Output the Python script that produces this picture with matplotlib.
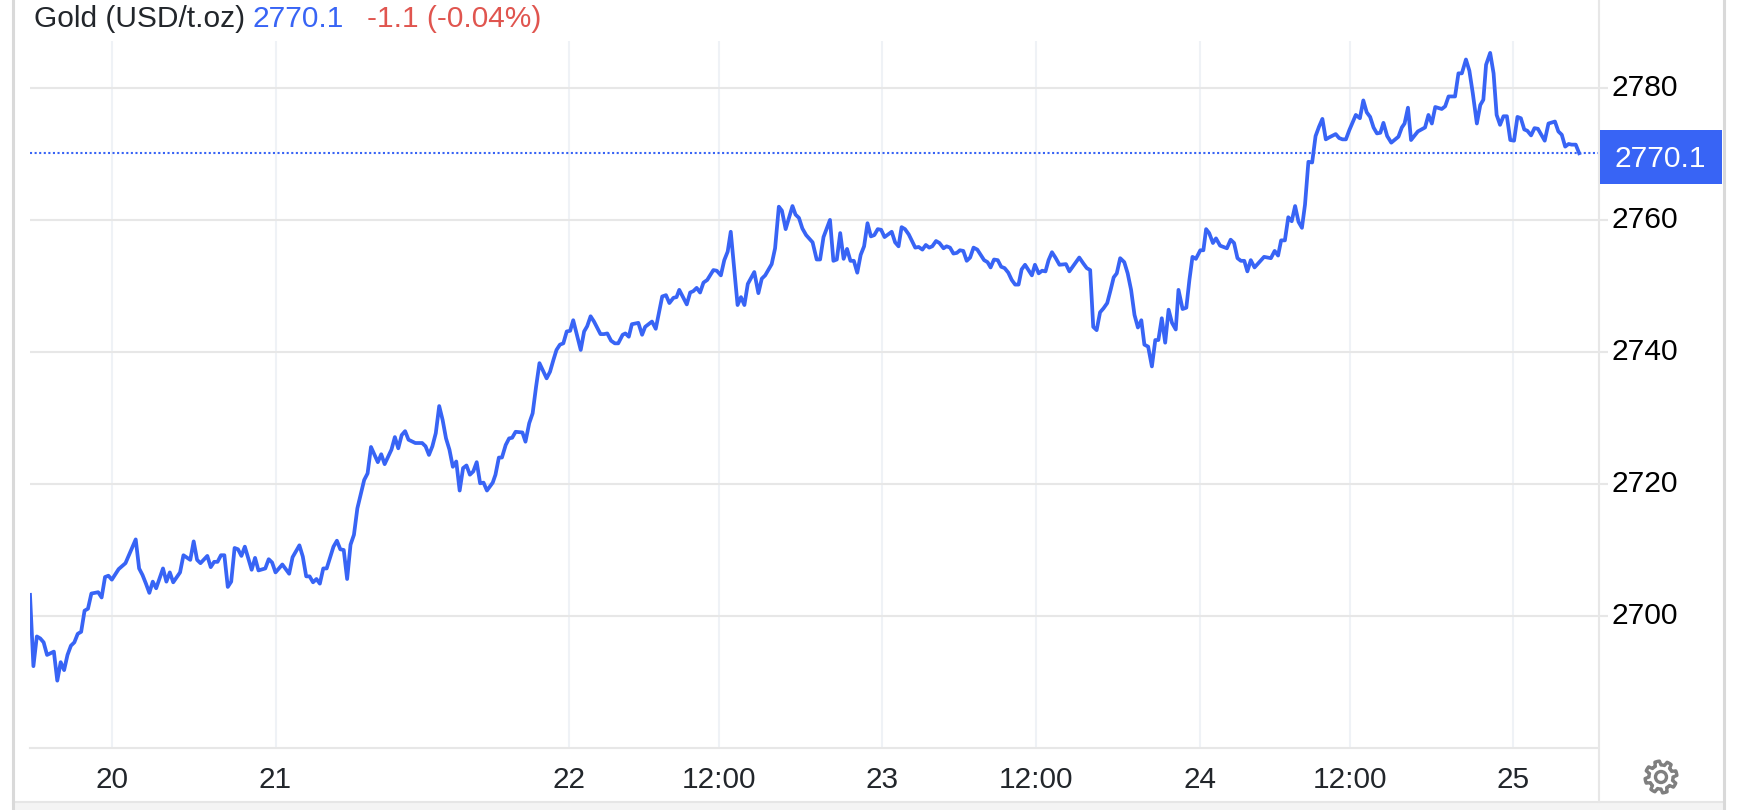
import numpy as np
import matplotlib
matplotlib.use('Agg')
import matplotlib.pyplot as plt
from matplotlib.patches import Rectangle, Circle, Polygon
from matplotlib.transforms import ScaledTranslation

plt.rcParams['font.family'] = ['Liberation Sans', 'DejaVu Sans']

# (bar number, price), one list per stretch of the chart
part_a = [(0,2703.2),(1,2692.4),(2,2696.9),(3,2696.6),(4,2696.0),(5,2694.1),(7,2694.6),(8,2690.2),
          (9,2693.0),(10,2691.8),(11,2694.1),(12,2695.5),(13,2696.0),(14,2697.3),(15,2697.6),(16,2700.8),
          (17,2701.1),(18,2703.4),(20,2703.6),(21,2702.8),(22,2705.9),(23,2706.1),(24,2705.5),(26,2707.1),
          (28,2708.0),(31,2711.6),(32,2707.2),(33,2706.2),(34,2704.9),(35,2703.5),(36,2705.2),(37,2704.2),
          (39,2707.2),(40,2705.2),(41,2706.6),(42,2705.1),(44,2706.6),(45,2709.2),(47,2708.5),(48,2711.3),
          (49,2708.5),(50,2708.0),(52,2709.1),(53,2707.4),(54,2708.2),(55,2708.2),(56,2709.2),(57,2709.2),
          (58,2704.4),(59,2705.2),(60,2710.3),(61,2710.1),(62,2709.1),(63,2710.5),(65,2707.0),(66,2708.8),
          (67,2706.9),(69,2707.2),(70,2708.6),(71,2708.1),(72,2706.6),(74,2707.8),(76,2706.4),(77,2708.9),
          (79,2710.7),(80,2709.0),(81,2706.0),(82,2706.0),(83,2705.1),(84,2705.6),(85,2704.9),(86,2707.2),
          (87,2707.2),(89,2710.5),(90,2711.4),(91,2710.1),(92,2710.0),(93,2705.6),(94,2710.8),(95,2712.3),
          (96,2716.3)]
part_b = [(98,2720.6),(99,2721.6),(100,2725.6),(102,2723.3),(103,2724.5),(104,2723.0),(106,2725.2),(107,2727.1),
          (108,2725.4),(109,2727.4),(110,2728.0),(111,2726.7),(113,2726.2),(115,2726.2),(116,2725.7),(117,2724.4),
          (118,2725.7),(119,2727.7),(120,2731.8),(121,2729.7),(122,2726.9),(123,2725.2),(124,2722.6),(125,2723.4),
          (126,2719.0),(127,2722.4),(128,2722.8),(129,2721.4),(130,2721.9),(131,2723.3),(132,2720.1),(133,2720.2),
          (134,2719.0),(135.7,2720.2),(136.5,2721.4),(137.5,2724.0),(138.4,2724.0),(139.5,2725.9),(140.5,2726.9),
          (141.4,2727.0),(142.4,2727.9),(144.4,2727.8),(145.3,2726.4),(146.4,2729.2),(147.4,2730.7),(148.4,2734.7),
          (149.4,2738.3),(151.5,2736.0),(152.5,2737.0),(153.5,2738.8),(154.4,2740.3),(155.4,2741.1),(156.4,2741.3),
          (157.4,2743.1),(158.4,2743.2),(159.3,2744.8),(161.5,2740.3),(162.5,2743.1),(163.4,2743.9),(164.4,2745.4),
          (165.4,2744.6),(167.3,2742.7),(168.3,2742.7),(169.3,2742.8),(170.4,2741.7),(171.5,2741.3),(172.5,2741.3),
          (173.8,2742.6),(174.6,2742.8),(175.6,2742.3),(176.5,2744.2),(178.4,2744.4),(179.5,2742.6),(180.4,2743.8),
          (182.4,2744.6),(183.5,2743.5)]
part_c = [(185.4,2748.4),(186.5,2748.6),(187.5,2747.4),(188.7,2748.2),(189.6,2748.3),(190.4,2749.4),(192.6,2747.2),
          (193.6,2749.0),(194.5,2749.2),(195.5,2749.7),(196.5,2749.0),(197.5,2750.5),(198.6,2750.9),(200.4,2752.4),
          (201.4,2752.3),(202.6,2751.6),(203.6,2753.9),(204.6,2755.2),(205.5,2758.2),(207.5,2747.1),(208.5,2748.3),
          (209.5,2747.1),(210.5,2750.3),(212.4,2752.1),(213.6,2748.9),(214.6,2751.1),(215.6,2751.6),(217.5,2753.3),
          (218.5,2755.7),(219.6,2762.0),(220.5,2761.4),(221.6,2758.6),(223.6,2762.1),(224.5,2760.8),(225.5,2760.3),
          (226.5,2758.7),(227.6,2757.7),(229.5,2756.6),(230.7,2754.0),(231.7,2754.0),(232.7,2757.4),(234.6,2760.0),
          (235.6,2753.8),(236.6,2754.0),(237.6,2758.0),(238.6,2754.1),(239.6,2755.6),(240.6,2753.8),(241.6,2753.8),
          (242.6,2752.0),(243.6,2754.7),(244.6,2756.0),(245.6,2759.5),(246.6,2757.5),(247.6,2757.7),(248.6,2758.6),
          (249.6,2758.5),(250.6,2757.4),(252.7,2758.2),(253.7,2756.6),(254.7,2756.0),(255.6,2758.9),(256.6,2758.6),
          (257.7,2757.8),(259.6,2755.8),(260.6,2755.9),(261.7,2755.5),(262.7,2756.2),(263.7,2755.8),(264.6,2756.0),
          (265.7,2756.8),(266.7,2756.5),(267.9,2755.7),(268.8,2756.0),(269.8,2755.8),(270.8,2754.9),(271.8,2755.0),
          (272.7,2755.4),(273.7,2755.3),(274.7,2753.8),(275.7,2754.3),(276.7,2755.8),(277.8,2755.5),(279.8,2753.9),
          (280.8,2753.6),(281.7,2752.8),(282.7,2754.0),(283.8,2753.9),(284.8,2752.9),(285.8,2752.7),(286.9,2752.0),
          (287.9,2750.9),(288.9,2750.2),(289.9,2750.2),(290.8,2752.5),(291.8,2753.2),(293.8,2751.6),(294.7,2753.2),
          (295.8,2751.9),(296.8,2752.3),(297.8,2752.2),(298.7,2753.9),(299.7,2755.1),(300.7,2754.3),(301.9,2753.2),
          (303.8,2753.3),(304.8,2752.2),(307.7,2754.3),(308.9,2753.4),(309.9,2752.7),(310.9,2752.4),(311.8,2743.8),
          (312.8,2743.3),(313.8,2746.0),(314.8,2746.6),(315.9,2747.4),(316.9,2749.4),(317.8,2751.3),(318.7,2751.9)]
part_d = [(319.7,2754.2),(320.9,2753.6),(321.9,2751.9),(322.9,2749.4),(323.9,2745.6),(324.9,2743.7),(325.9,2744.8),
          (326.8,2741.1),(327.9,2740.8),(329,2737.8),(330,2741.8),(330.9,2741.8),(331.9,2745.1),(332.9,2741.4),
          (333.9,2746.4),(334.9,2744.4),(336,2743.4),(336.8,2749.4),(338,2746.5),(339.1,2746.7),(340,2750.9),
          (340.9,2754.4),(341.9,2754.1),(343.2,2755.4),(344.1,2755.4),(344.9,2758.6),(345.8,2758.0),(346.9,2756.5),
          (347.8,2757.2),(349,2756.1),(351,2755.7),(352.1,2757.0),(353.1,2756.5),(354.1,2754.2),(355.1,2753.8),
          (356.1,2753.8),(357,2752.2),(358,2753.9),(359.1,2752.8),(361.9,2754.4),(363.9,2754.2),(365,2755.3),
          (366,2754.6),(366.9,2756.9),(368,2756.9),(369,2760.4),(370,2759.8),(371,2762.1),(372,2759.7),(373,2758.8),
          (373.9,2762.3),(374.9,2768.8),(376,2768.7),(377,2772.7),(378,2774.1),(379,2775.3),(380,2772.2),(381,2772.5),
          (382.9,2773.0),(383.9,2772.4),(384.9,2772.2),(385.9,2772.2),(386.9,2773.6),(388.8,2775.9),(390,2775.4),
          (391,2778.1),(392,2776.3),(393,2775.6),(394,2774.0),(395,2773.1),(396,2773.2),(396.9,2774.7),(398,2772.7),
          (399.2,2771.7),(401.3,2772.6),(402.3,2774.0),(403.1,2774.6),(404.1,2777.0),(405,2772.1),(407,2773.4),
          (409.1,2774.0),(410.1,2775.9),(411.1,2774.6),(412.1,2777.1),(414,2776.8),(415,2777.2),(416,2778.7)]
part_e = [(417.9,2778.7),(418.9,2782.2),(419.9,2782.2),(421.1,2784.3),(422.1,2782.6),(423.1,2779.2),(424.3,2774.6),
          (425.3,2777.4),(426.2,2778.2),(427,2783.5),(428.2,2785.3),(429.2,2782.2),(430.1,2775.9),(431.1,2774.4),
          (432.1,2775.7),(433.1,2775.7),(434.1,2772.1),(435.2,2772.0),(436.2,2775.6),(437.2,2775.4),(438.2,2773.7),
          (439.1,2773.5),(440.2,2772.8),(441.2,2773.9),(442.2,2773.8),(444.2,2772.0),(445.3,2774.6),(447.2,2774.9),
          (448.2,2773.4),(449.2,2772.9),(450.2,2771.1),(451.2,2771.5),(452.1,2771.4),(453.3,2771.4),(454.3,2770.1)]

x_ticks = [24, 72, 158, 202, 250, 295, 343, 387, 435]
x_labels = ['20', '21', '22', '12:00', '23', '12:00', '24', '12:00', '25']
y_ticks = [2700, 2720, 2740, 2760, 2780]
last_price = 2770.1

blue = '#3864f5'
red = '#e0554f'
dark = '#22262b'
grid_h = '#e7e7e7'
grid_v = '#eff2f6'
border = '#d9d9d9'

W, H = 1738, 810
data = np.array(part_a + part_b + part_c + part_d + part_e)

fig = plt.figure(figsize=(W/100, H/100), dpi=100, facecolor='white')

# page furniture in pixel coordinates
bg = fig.add_axes([0, 0, 1, 1], zorder=0)
bg.set_xlim(0, W)
bg.set_ylim(H, 0)
bg.axis('off')
bg.add_patch(Rectangle((13, 802), 1710, 8, fc='#f4f4f4', ec='none'))
bg.plot([13, 1723], [802, 802], color='#e6e6e6', lw=1.5)
bg.plot([13, 13], [0, 810], color=border, lw=2.2)
bg.plot([1723.5, 1723.5], [0, 810], color=border, lw=2.2)
bg.plot([1599, 1599], [0, 802], color=grid_h, lw=1.5)

# main chart
ax = fig.add_axes([30/W, (H-748)/H, 1568/W, 707/H], zorder=1)
ax.patch.set_alpha(0)
ax.set_xlim(0, 1568/3.41)
ax.set_ylim(2680, 2787.1)
ax.set_xticks(x_ticks)
ax.set_xticklabels(x_labels)
ax.set_yticks(y_ticks)
ax.yaxis.tick_right()
ax.grid(True, axis='x', color=grid_v, lw=1.5)
ax.grid(True, axis='y', color=grid_h, lw=1.5)
ax.set_axisbelow(True)
for s in ['top', 'left', 'right']:
    ax.spines[s].set_visible(False)
ax.spines['bottom'].set_color(grid_h)
ax.spines['bottom'].set_linewidth(1.5)
ax.tick_params(axis='x', length=0, pad=13, labelsize=21.4, labelcolor=dark)
ax.tick_params(axis='y', length=7, width=1.5, color=grid_h, pad=3, labelsize=21.6, labelcolor='black')

# nudge the price labels up so they sit on their grid lines
nudge = ScaledTranslation(0, 2/72, fig.dpi_scale_trans)
for lab in ax.get_yticklabels():
    lab.set_transform(lab.get_transform() + nudge)

ax.axhline(last_price, color=blue, lw=1.5, ls=(0, (1, 1.2)), zorder=2)
ax.plot(data[:, 0], data[:, 1], color=blue, lw=2.7, solid_joinstyle='round', zorder=3)

# price badge
bg.add_patch(Rectangle((1600, 130), 122, 54, fc=blue, ec='none', zorder=5))
bg.text(1660, 159, '2770.1', color='white', fontsize=21.6, ha='center', va='center', zorder=6)

# header
hy = 19
bg.text(34, hy, 'Gold (USD/t.oz)', color=dark, fontsize=21.5, va='center')
bg.text(253, hy, '2770.1', color=blue, fontsize=21.5, va='center')
bg.text(367, hy, '-1.1 (-0.04%)', color=red, fontsize=21.5, va='center')

# gear icon
cx, cy = 1661, 777
ang = np.linspace(0, 2*np.pi, 8*8, endpoint=False) + np.pi/8
rad = np.where((np.arange(64) % 8) < 4, 16, 12)
gear = np.column_stack([cx + rad*np.cos(ang), cy + rad*np.sin(ang)])
bg.add_patch(Polygon(gear, closed=True, fc='none', ec='#7f7f7f', lw=2.4, joinstyle='round'))
bg.add_patch(Circle((cx, cy), 5.5, fc='none', ec='#7f7f7f', lw=2.4))

fig.savefig('out.png', dpi=100)
